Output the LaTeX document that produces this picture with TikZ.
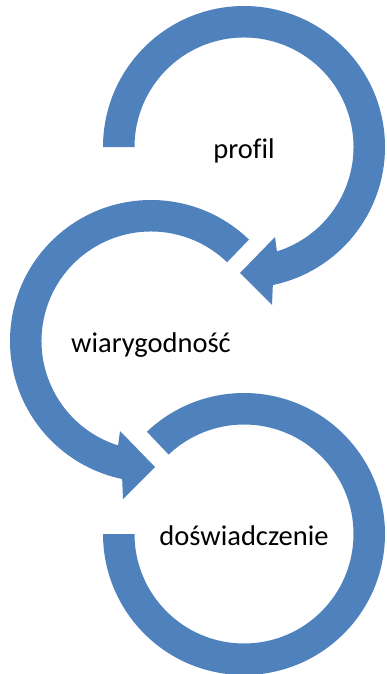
\documentclass[tikz,border=0pt]{standalone}
\usepackage{fontspec}
\setmainfont[Ligatures=CommonOff]{Carlito}
\definecolor{ringblue}{HTML}{4F81BD}
\tikzset{
  ring/.style={fill=ringblue, draw=none},
  lbl/.style={anchor=base, inner sep=0pt, font=\fontsize{28.5}{34}\selectfont, text=black}
}
\begin{document}
\begin{tikzpicture}[x=1pt, y=-1pt]
\useasboundingbox (0,0) rectangle (387,674);
\coordinate (c1) at (244,147);
\coordinate (c2) at (151,341);
\coordinate (c3) at (244,534);
% ring 1 (clockwise, arrow at bottom right)
\fill[ring] ([shift={(180:141)}]c1) arc[start angle=180, end angle=438.2, radius=141]
  -- ([shift={(28,158)}]c1) -- ([shift={(-4,126)}]c1) -- ([shift={(31,90)}]c1)
  -- ([shift={(72.5:109.5)}]c1) arc[start angle=72.5, end angle=-180, radius=109.5] -- cycle;
% ring 2 (counter-clockwise, arrow at bottom left)
\fill[ring] ([shift={(-46:141)}]c2) arc[start angle=-46, end angle=-258.2, radius=141]
  -- ([shift={(-28,158)}]c2) -- ([shift={(4,126)}]c2) -- ([shift={(-31,90)}]c2)
  -- ([shift={(-252.5:109.5)}]c2) arc[start angle=-252.5, end angle=-46, radius=109.5] -- cycle;
% ring 3 (no arrow)
\fill[ring] ([shift={(-133.5:141)}]c3) arc[start angle=-133.5, end angle=180, radius=141]
  -- ([shift={(180:109.5)}]c3) arc[start angle=180, end angle=-133.5, radius=109.5] -- cycle;
\node[lbl] (t1) at ([shift={(0,11)}]c1) {profil};
\node[lbl] (t2) at ([shift={(0,11)}]c2) {wiarygodność};
\node[lbl] (t3) at ([shift={(0,11)}]c3) {doświadczenie};
\end{tikzpicture}
\end{document}
